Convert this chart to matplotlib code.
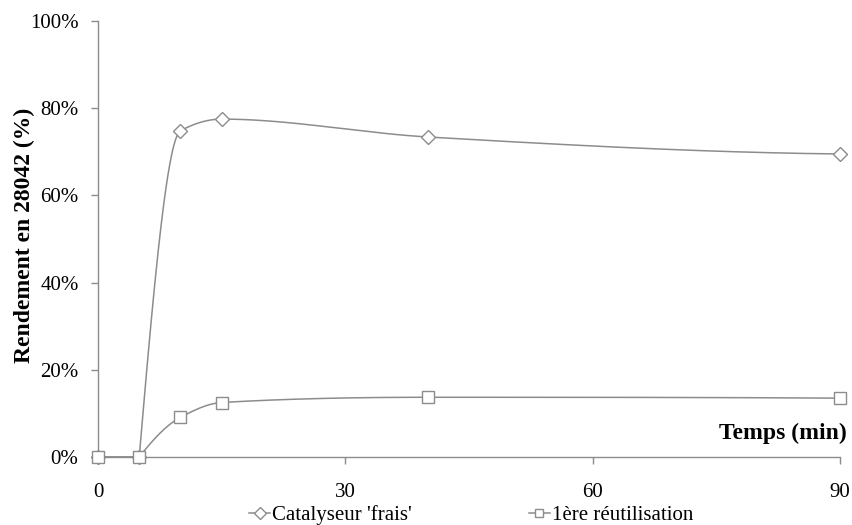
import numpy as np
import matplotlib
matplotlib.use('Agg')
from matplotlib import pyplot as plt
from matplotlib.ticker import FuncFormatter

# Données
temps = [0, 5, 10, 15, 40, 90]
frais = [0.0, 0.0, 74.8, 77.5, 73.4, 69.5]
reutil = [0.0, 0.0, 9.1, 12.5, 13.7, 13.5]

y_ticks = [0, 20, 40, 60, 80, 100]
x_ticks = [0, 30, 60, 90]

GRIS = '#8c8c8c'


def pchip_pentes(x, y):
    # pentes de Fritsch-Carlson (lissage sans dépassement)
    h = np.diff(x)
    d = np.diff(y) / h
    n = len(x)
    m = np.zeros(n)
    for k in range(1, n - 1):
        if d[k - 1] * d[k] <= 0:
            m[k] = 0.0
        else:
            w1 = 2 * h[k] + h[k - 1]
            w2 = h[k] + 2 * h[k - 1]
            m[k] = (w1 + w2) / (w1 / d[k - 1] + w2 / d[k])

    def bout(h0, h1, d0, d1):
        v = ((2 * h0 + h1) * d0 - h0 * d1) / (h0 + h1)
        if np.sign(v) != np.sign(d0):
            return 0.0
        if np.sign(d0) != np.sign(d1) and abs(v) > abs(3 * d0):
            return 3 * d0
        return v

    m[0] = bout(h[0], h[1], d[0], d[1])
    m[-1] = bout(h[-1], h[-2], d[-1], d[-2])
    return m


def courbe_lisse(x, y, n=60):
    # segment plat 0 -> 5 min, puis lissage à partir de 5 min
    x = np.asarray(x, float)
    y = np.asarray(y, float)
    xs = [x[0], x[1]]
    ys = [y[0], y[1]]
    xx, yy = x[1:], y[1:]
    m = pchip_pentes(xx, yy)
    for k in range(len(xx) - 1):
        h = xx[k + 1] - xx[k]
        s = np.linspace(0, 1, n)[1:]
        h00 = 2 * s**3 - 3 * s**2 + 1
        h10 = s**3 - 2 * s**2 + s
        h01 = -2 * s**3 + 3 * s**2
        h11 = s**3 - s**2
        xs.extend(xx[k] + s * h)
        ys.extend(h00 * yy[k] + h10 * h * m[k] + h01 * yy[k + 1] + h11 * h * m[k + 1])
    return np.array(xs), np.array(ys)


plt.rcParams['font.family'] = ['Liberation Serif', 'DejaVu Serif']

fig = plt.figure(figsize=(8.52, 5.25), dpi=100)
ax = fig.add_axes([0.115, 0.1295, 0.871, 0.8305])

for serie, marq, ms, lab in [(frais, 'D', 7.5, "Catalyseur 'frais'"),
                              (reutil, 's', 8.5, '1ère réutilisation')]:
    xs, ys = courbe_lisse(temps, serie)
    ax.plot(xs, ys, color=GRIS, lw=1.1, zorder=2, clip_on=False)
    ax.plot(temps, serie, ls='none', marker=marq, ms=ms, mfc='white',
            mec=GRIS, mew=1.0, zorder=3, clip_on=False)
    # entrée de légende : ligne + marqueur
    ax.plot([], [], color=GRIS, lw=1.1, marker=marq, ms=ms * 0.75, mfc='white',
            mec=GRIS, mew=1.0, label=lab)

ax.set_xlim(0, 90)
ax.set_ylim(0, 100)
ax.set_xticks(x_ticks)
ax.set_yticks(y_ticks)
ax.yaxis.set_major_formatter(FuncFormatter(lambda v, p: '%d%%' % v))

for side in ['top', 'right']:
    ax.spines[side].set_visible(False)
for side in ['left', 'bottom']:
    ax.spines[side].set_color(GRIS)
    ax.spines[side].set_linewidth(1.0)

ax.tick_params(axis='both', direction='out', length=5, width=1.0, color=GRIS,
               labelsize=15, labelcolor='black')
ax.tick_params(axis='x', pad=14)
ax.tick_params(axis='y', pad=9)

fig.text(24 / 852, 1 - 235 / 525, 'Rendement en 28042 (%)', rotation=90,
         ha='center', va='center', fontsize=17, fontweight='bold')
ax.text(1.009, 0.055, 'Temps (min)', transform=ax.transAxes, ha='right', va='center',
        fontsize=17, fontweight='bold')

fig.legend(loc='lower center', bbox_to_anchor=(0.553, -0.036), ncol=2, frameon=False,
           fontsize=15, handlelength=1.0, handletextpad=0.1, columnspacing=5.6)

fig.savefig('out.png', dpi=100)
